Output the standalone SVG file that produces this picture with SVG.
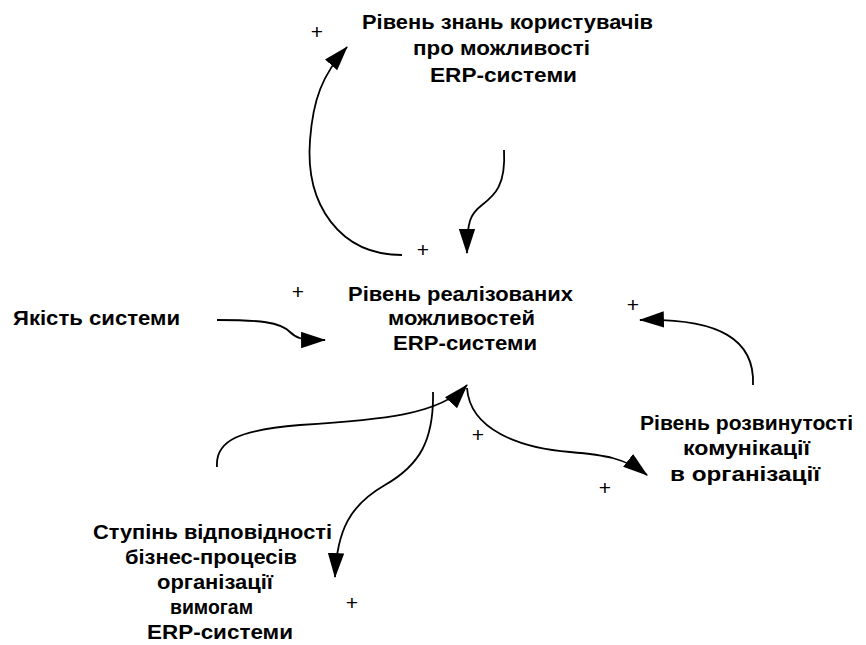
<svg xmlns="http://www.w3.org/2000/svg" width="866" height="645" viewBox="0 0 866 645">
<defs>
<marker id="ah" markerUnits="userSpaceOnUse" markerWidth="25" markerHeight="17" viewBox="0 0 23 15" refX="22" refY="7.5" orient="auto">
<path d="M0,0 L23,7.5 L0,15 z" fill="#000"/>
</marker>
<style>
.t{font-family:"Liberation Sans",Arial,sans-serif;font-weight:bold;font-size:20px;fill:#000}
.p{font-family:"Liberation Sans",Arial,sans-serif;font-size:21px;fill:#000;text-anchor:middle}
.c{fill:none;stroke:#000;stroke-width:1.8;marker-end:url(#ah)}
</style>
</defs>
<rect width="866" height="645" fill="#fff"/>
<g id="connectors">
<path class="c" d="M402,255 C340,255 305,205 310,140 C313,100 322,75 347,47"/>
<path class="c" d="M504,150 C506,185 495,195 482,205 C470,214 467,222 467,253"/>
<path class="c" d="M217,320 C260,320 280,322 290,332 C296,338 300,340 325,340"/>
<path class="c" d="M753,385 C755,340 720,318 640,320"/>
<path class="c" d="M467,388 C470,430 520,448 570,452 C605,455 625,458 647,475"/>
<path class="c" d="M217,467 C215,440 240,430 300,425 C380,420 440,415 467,385"/>
<path class="c" d="M433,392 C434,440 420,465 385,485 C350,505 337,530 335,577"/>
</g>
<g id="signs">
<text class="p" x="317" y="39">+</text>
<text class="p" x="423" y="257">+</text>
<text class="p" x="298" y="299">+</text>
<text class="p" x="633" y="312">+</text>
<text class="p" x="478" y="442">+</text>
<text class="p" x="605" y="495">+</text>
<text class="p" x="352" y="610">+</text>
</g>
<g id="node-knowledge">
<text class="t" x="362" y="29" textLength="291" lengthAdjust="spacingAndGlyphs">Рівень знань користувачів</text>
<text class="t" x="413" y="55" textLength="177" lengthAdjust="spacingAndGlyphs">про можливості</text>
<text class="t" x="430" y="82" textLength="147" lengthAdjust="spacingAndGlyphs">ERP-системи</text>
</g>
<g id="node-realized">
<text class="t" x="348" y="301" textLength="225" lengthAdjust="spacingAndGlyphs">Рівень реалізованих</text>
<text class="t" x="388" y="325" textLength="147" lengthAdjust="spacingAndGlyphs">можливостей</text>
<text class="t" x="393" y="350" textLength="144" lengthAdjust="spacingAndGlyphs">ERP-системи</text>
</g>
<g id="node-quality">
<text class="t" x="13" y="325" textLength="167" lengthAdjust="spacingAndGlyphs">Якість системи</text>
</g>
<g id="node-communication">
<text class="t" x="640" y="430" textLength="213" lengthAdjust="spacingAndGlyphs">Рівень розвинутості</text>
<text class="t" x="683" y="455" textLength="127" lengthAdjust="spacingAndGlyphs">комунікації</text>
<text class="t" x="670" y="481" textLength="150" lengthAdjust="spacingAndGlyphs">в організації</text>
</g>
<g id="node-conformity">
<text class="t" x="93" y="539" textLength="239" lengthAdjust="spacingAndGlyphs">Ступінь відповідності</text>
<text class="t" x="125" y="564" textLength="172" lengthAdjust="spacingAndGlyphs">бізнес-процесів</text>
<text class="t" x="157" y="589" textLength="116" lengthAdjust="spacingAndGlyphs">організації</text>
<text class="t" x="170" y="614" textLength="83" lengthAdjust="spacingAndGlyphs">вимогам</text>
<text class="t" x="147" y="639" textLength="146" lengthAdjust="spacingAndGlyphs">ERP-системи</text>
</g>
</svg>
